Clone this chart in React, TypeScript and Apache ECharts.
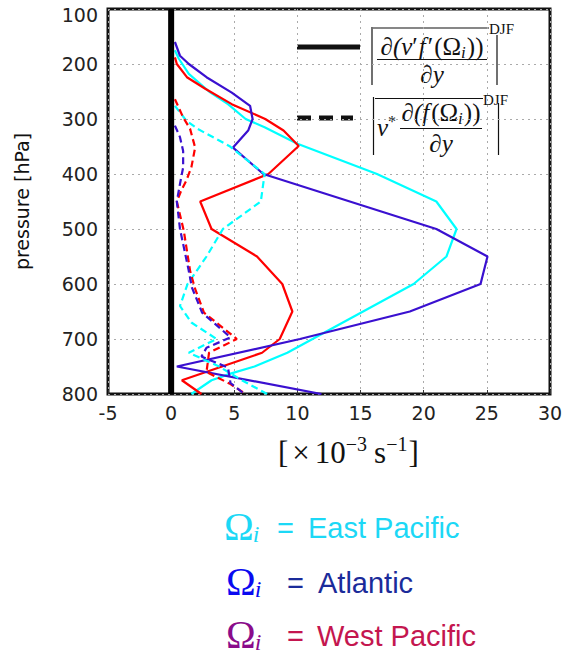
import React, { useEffect, useRef } from "react";
import * as echarts from "echarts";

// Axis ranges
const X_MIN = -5;
const X_MAX = 30;
const X_STEP = 5;
const P_MIN = 100;
const P_MAX = 800;
const P_STEP = 100;

// East Pacific, solid: |d(v'f'(Omega_i))/dy|
const epSolidP = [175, 190, 218, 250, 273, 300, 315, 345, 400, 450, 500, 550, 600, 725, 750, 763, 775, 800];
const epSolidV = [0.3, 0.6, 1.4, 3.0, 4.5, 5.9, 7.4, 10.0, 16.3, 21.0, 22.6, 21.8, 19.2, 9.2, 6.6, 4.7, 3.2, 1.6];

// Atlantic, solid
const atSolidP = [160, 185, 200, 224, 252, 276, 300, 321, 352, 400, 500, 550, 600, 650, 700, 750, 800];
const atSolidV = [0.3, 0.7, 1.4, 2.8, 4.8, 6.25, 6.45, 6.1, 4.9, 7.3, 21.0, 25.05, 24.5, 18.9, 10.2, 0.45, 11.9];

// West Pacific, solid
const wpSolidP = [188, 200, 224, 245, 273, 300, 321, 349, 400, 450, 500, 550, 600, 650, 700, 725, 775, 800];
const wpSolidV = [0.3, 0.45, 1.25, 2.7, 4.8, 7.45, 8.9, 10.1, 7.7, 2.3, 3.2, 6.8, 8.8, 9.6, 8.6, 7.2, 0.85, 2.4];

// East Pacific, dashed: |v* d(f(Omega_i))/dy|
const epDashP = [276, 303, 318, 349, 400, 450, 500, 550, 600, 640, 670, 700, 725, 750, 775, 800];
const epDashV = [0.3, 1.2, 2.1, 4.6, 7.4, 7.1, 4.1, 2.8, 1.3, 0.7, 1.6, 3.6, 1.4, 3.8, 5.6, 7.6];

// Atlantic, dashed
const atDashP = [312, 333, 358, 388, 418, 450, 500, 573, 606, 652, 673, 697, 716, 732, 752, 780, 800];
const atDashV = [0.3, 0.7, 0.95, 0.95, 0.7, 0.45, 0.7, 1.37, 1.64, 2.45, 3.5, 4.7, 2.8, 2.4, 4.5, 4.7, 5.8];

// West Pacific, dashed
const wpDashP = [264, 297, 318, 352, 388, 412, 430, 450, 503, 576, 609, 652, 676, 700, 725, 760, 782, 800];
const wpDashV = [0.3, 0.95, 1.5, 1.9, 1.6, 1.2, 0.8, 0.45, 1.0, 1.5, 1.9, 2.6, 3.9, 5.2, 3.0, 2.8, 4.7, 5.9];

// Zero reference line
const zeroLineV = [0, 0];
const zeroLineP = [P_MIN, P_MAX];

const legendRegions = ["East Pacific", "Atlantic", "West Pacific"];

const CYAN = "#00ffff";
const BLUE = "#3a10d0";
const RED = "#ff0000";

const SERIF = "Liberation Serif";
const SANS = "DejaVu Sans";

const pairs = (v: number[], p: number[]) => v.map((x, i) => [x, p[i]]);

export default function App() {
  const ref = useRef<HTMLDivElement>(null);

  useEffect(() => {
    if (!ref.current) return;
    const chart = echarts.init(ref.current, null, { renderer: "svg" });
    const ctx = document.createElement("canvas").getContext("2d")!;
    const mw = (t: string, size: number, italic: boolean, family: string) => {
      ctx.font = `${italic ? "italic " : ""}${size}px "${family}"`;
      return ctx.measureText(t).width;
    };
    type Piece = { t: string; size: number; it?: boolean; dy?: number; gap?: number; fill?: string };
    const row = (
      pieces: Piece[],
      x: number,
      y: number,
      anchor: "left" | "center",
      fill = "#111",
      family = SERIF
    ) => {
      const widths = pieces.map((p) => mw(p.t, p.size, !!p.it, family) + (p.gap || 0));
      const total = widths.reduce((a, b) => a + b, 0);
      let cx = anchor === "center" ? x - total / 2 : x;
      return pieces.map((p, i) => {
        const el = {
          type: "text",
          x: cx,
          y: y + (p.dy || 0),
          silent: true,
          style: {
            text: p.t,
            fontSize: p.size,
            lineHeight: p.size,
            fontFamily: family,
            fontStyle: p.it ? "italic" : "normal",
            fill: p.fill || fill,
            align: "left",
            verticalAlign: "middle",
          },
        };
        cx += widths[i];
        return el;
      });
    };
    const ln = (x1: number, y1: number, x2: number, y2: number, w = 1.2, dash?: number[]) => ({
      type: "line",
      silent: true,
      shape: { x1, y1, x2, y2 },
      style: { stroke: "#111", lineWidth: w, lineDash: dash },
    });

    const graphics: any[] = [];
    // legend line samples
    graphics.push(ln(297, 47, 360, 47, 5));
    graphics.push(ln(297, 118, 353, 118, 5, [14, 8]));

    // formula 1
    graphics.push(ln(372, 27, 372, 85));
    graphics.push(ln(373, 28, 489, 28));
    graphics.push(ln(497, 35, 497, 85));
    graphics.push(ln(377, 59.5, 487, 59.5, 1));
    graphics.push(
      ...row(
        [
          { t: "∂(", size: 25, it: true },
          { t: "v", size: 25, it: true },
          { t: "′", size: 25, gap: 1 },
          { t: "f", size: 25, it: true, gap: 2 },
          { t: "′", size: 25, gap: 1 },
          { t: "(Ω", size: 25 },
          { t: "i", size: 17, it: true, dy: 6, gap: 1 },
          { t: "))", size: 25 },
        ],
        432,
        46,
        "center"
      )
    );
    graphics.push(...row([{ t: "∂y", size: 25, it: true }], 432, 74, "center"));
    graphics.push(...row([{ t: "DJF", size: 15 }], 489, 29, "left"));

    // formula 2
    graphics.push(ln(373.5, 97, 373.5, 155));
    graphics.push(ln(375, 98.5, 483, 98.5));
    graphics.push(ln(498.5, 103, 498.5, 155));
    graphics.push(ln(400, 128.5, 482, 128.5, 1));
    graphics.push(
      ...row(
        [
          { t: "v", size: 25, it: true },
          { t: "*", size: 16, dy: -6 },
        ],
        377,
        127,
        "left"
      )
    );
    graphics.push(
      ...row(
        [
          { t: "∂(", size: 25, it: true },
          { t: "f", size: 25, it: true, gap: 2 },
          { t: "(Ω", size: 25 },
          { t: "i", size: 17, it: true, dy: 6, gap: 1 },
          { t: "))", size: 25 },
        ],
        441,
        112,
        "center"
      )
    );
    graphics.push(...row([{ t: "∂y", size: 25, it: true }], 441, 143, "center"));
    graphics.push(...row([{ t: "DJF", size: 15 }], 483, 100, "left"));

    // x-axis name
    graphics.push(
      ...row(
        [
          { t: "[", size: 31, gap: 4 },
          { t: "×", size: 31, gap: 5 },
          { t: "10", size: 31 },
          { t: "−3", size: 20, dy: -8, gap: 7 },
          { t: "s", size: 31 },
          { t: "−1", size: 20, dy: -8, gap: 1 },
          { t: "]", size: 31 },
        ],
        278,
        452,
        "left",
        "#111"
      )
    );

    // region legend
    const omegaCol = ["#1cd8f6", "#0a0af0", "#8a0c8a"];
    const textCol = ["#1cd8f6", "#1a2b9a", "#c4164f"];
    const rowY = [528, 583, 636];
    const omegaX = [224, 226, 226];
    const eqX = [277, 287, 287];
    const nameX = [308, 318, 317];
    legendRegions.forEach((name, k) => {
      graphics.push(
        ...row(
          [
            { t: "Ω", size: 40, gap: -1 },
            { t: "i", size: 24, it: true, dy: 8 },
          ],
          omegaX[k],
          rowY[k] - 2,
          "left",
          omegaCol[k]
        )
      );
      graphics.push(...row([{ t: "=", size: 29 }], eqX[k], rowY[k], "left", textCol[k], "Liberation Sans"));
      graphics.push(...row([{ t: name, size: 29 }], nameX[k], rowY[k], "left", textCol[k], "Liberation Sans"));
    });

    const solid = (name: string, color: string, v: number[], p: number[]) => ({
      name,
      type: "line",
      data: pairs(v, p),
      showSymbol: false,
      symbol: "none",
      lineStyle: { color, width: 2.2 },
      z: 3,
    });
    const dashed = (name: string, color: string, v: number[], p: number[]) => ({
      name,
      type: "line",
      data: pairs(v, p),
      showSymbol: false,
      symbol: "none",
      lineStyle: { color, width: 2.2, type: [7, 4] },
      z: 3,
    });

    chart.setOption({
      animation: false,
      grid: {
        left: 108,
        right: 23,
        top: 9,
        bottom: 261,
        show: true,
        borderColor: "#111",
        borderWidth: 3,
        backgroundColor: "#fff",
      },
      xAxis: {
        type: "value",
        min: X_MIN,
        max: X_MAX,
        interval: X_STEP,
        axisLine: { show: false },
        axisTick: { show: true, inside: true, length: 4, lineStyle: { color: "#333" } },
        splitLine: { show: true, lineStyle: { color: "#aaa", type: [2, 4], width: 1 } },
        axisLabel: { fontFamily: SANS, fontSize: 19, color: "#222", margin: 9 },
      },
      yAxis: {
        type: "value",
        inverse: true,
        min: P_MIN,
        max: P_MAX,
        interval: P_STEP,
        name: "pressure [hPa]",
        nameLocation: "middle",
        nameGap: 77,
        nameTextStyle: { fontFamily: SANS, fontSize: 19, color: "#111" },
        axisLine: { show: false },
        axisTick: { show: false },
        splitLine: { show: true, lineStyle: { color: "#aaa", type: [2, 4], width: 1 } },
        axisLabel: {
          fontFamily: SANS,
          fontSize: 19,
          color: "#222",
          margin: 10,
          formatter: (v: number) => (v === P_MIN ? `{t|${v}}` : `{n|${v}}`),
          rich: {
            t: { fontFamily: SANS, fontSize: 19, color: "#222", padding: [12, 0, 0, 0] },
            n: { fontFamily: SANS, fontSize: 19, color: "#222" },
          },
        },
      },
      series: [
        solid("East Pacific solid", CYAN, epSolidV, epSolidP),
        solid("West Pacific solid", RED, wpSolidV, wpSolidP),
        solid("Atlantic solid", BLUE, atSolidV, atSolidP),
        dashed("East Pacific dashed", CYAN, epDashV, epDashP),
        dashed("West Pacific dashed", RED, wpDashV, wpDashP),
        dashed("Atlantic dashed", BLUE, atDashV, atDashP),
        {
          name: "zero",
          type: "line",
          data: pairs(zeroLineV, zeroLineP),
          symbol: "none",
          lineStyle: { color: "#000", width: 6 },
          z: 4,
        },
      ],
      graphic: graphics,
    });

    return () => chart.dispose();
  }, []);

  return (
    <div
      ref={ref}
      style={{ position: "fixed", left: 0, top: 0, width: 573, height: 655, background: "#fff" }}
    />
  );
}
